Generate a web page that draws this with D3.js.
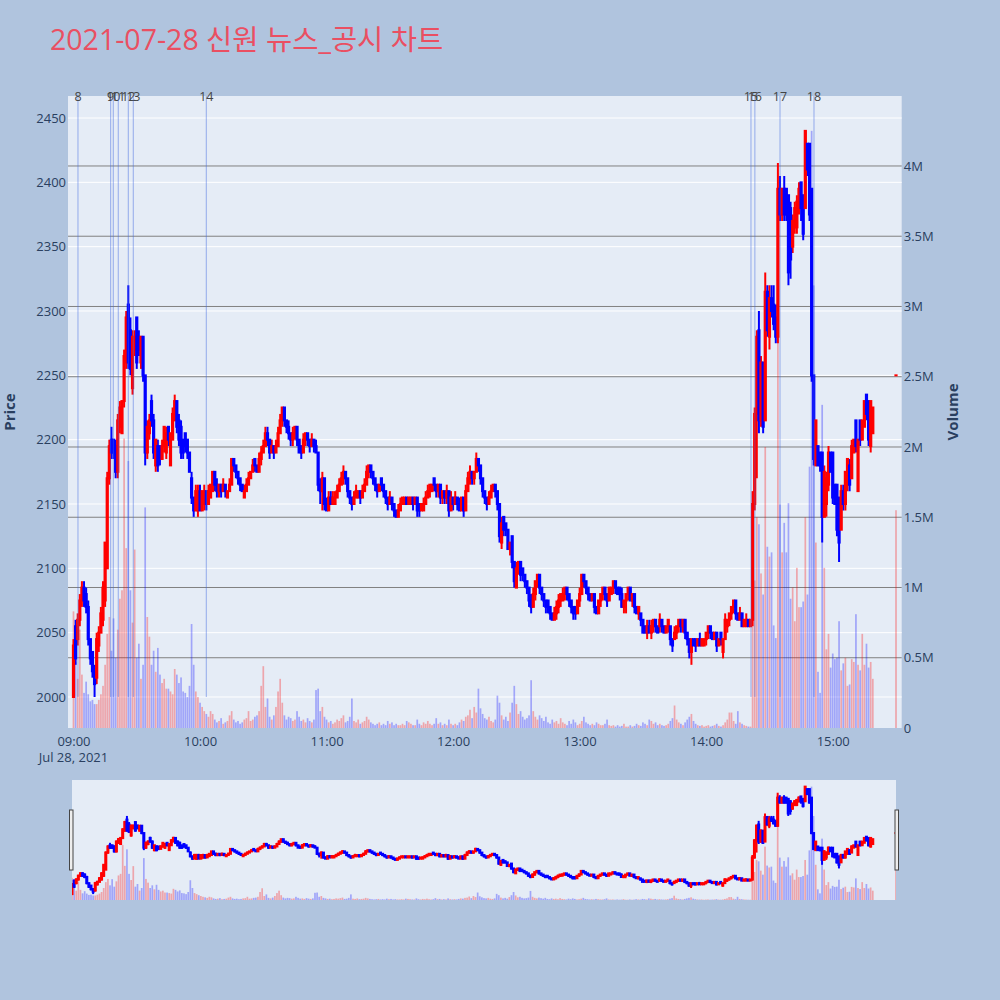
<!DOCTYPE html>
<html><head><meta charset="utf-8">
<script src="https://cdn.jsdelivr.net/npm/d3@7/dist/d3.min.js"></script>
<style>
html,body{margin:0;padding:0;background:#b0c4de;}
svg{display:block;}
text{font-family:"Open Sans","Noto Sans CJK KR",sans-serif;}
</style></head>
<body>
<svg id="chart" width="1000" height="1000"></svg>
<script>
const titleText = "2021-07-28 신원 뉴스_공시 차트";
const sessionOpen = "09:00";
const regularBarCount = 380;          // 1-minute bars 09:00 .. 15:19
const closingAuctionTime = "15:30";   // closing single-price bar

const opens = [
// 09:00-10:06
2000,2055,2045,2060,2075,2085,2080,2070,2045,2035,
2020,2015,2040,2050,2060,2075,2100,2170,2200,2200,
2195,2175,2210,2205,2230,2260,2305,2285,2240,2270,
2295,2280,2260,2280,2250,2190,2205,2230,2215,2180,
2195,2195,2185,2195,2190,2210,2180,2200,2215,2230,
2215,2210,2200,2205,2200,2190,2170,2155,2145,2145,
2160,2145,2150,2160,2150,2155,2160,
// 10:07-12:21
2175,2165,2160,2165,2160,2165,2155,2160,2165,2185,
2180,2175,2170,2165,2155,2160,2165,2170,2175,2185,
2180,2175,2185,2190,2195,2205,2200,2190,2195,2190,
2195,2205,2215,2225,2215,2210,2205,2200,2205,2210,
2200,2195,2190,2200,2205,2200,2195,2200,2195,2190,
2165,2160,2170,2150,2145,2155,2150,2150,2155,2160,
2165,2170,2175,2170,2160,2155,2150,2155,2155,2160,
2155,2160,2165,2175,2180,2175,2170,2165,2160,2170,
2165,2160,2155,2150,2155,2150,2145,2140,2145,2150,
2150,2155,2150,2150,2155,2150,2155,2150,2145,2145,
2150,2155,2160,2160,2170,2165,2160,2165,2155,2160,
2155,2160,2145,2155,2150,2155,2150,2145,2155,2145,
2160,2170,2175,2170,2175,2185,2180,2170,2160,2155,
2150,2155,2160,2165,2160,
// 12:22-14:21
2150,2120,2140,2135,2130,2115,2125,2105,2085,2100,
2105,2100,2095,2090,2085,2075,2070,2080,2090,2095,
2085,2080,2075,2075,2070,2065,2060,2065,2070,2075,
2075,2080,2085,2080,2075,2070,2070,2065,2075,2080,
2095,2090,2085,2080,2075,2080,2070,2065,2075,2080,
2085,2080,2075,2080,2085,2090,2085,2085,2080,2070,
2075,2080,2085,2075,2080,2070,2065,2065,2060,2055,
2050,2055,2050,2055,2060,2055,2055,2060,2055,2050,
2055,2055,2045,2045,2050,2055,2060,2055,2060,2050,
2045,2035,2045,2045,2040,2045,2040,2040,2045,2050,
2055,2050,2045,2050,2040,2050,2035,2045,2055,2060,
2065,2070,2075,2065,2060,2065,2055,2055,2060,2055,
// 14:22-15:19
2060,2150,2220,2285,2215,2260,2215,2315,2280,2310,
2305,2295,2280,2395,2375,2395,2395,2390,2380,2350,
2365,2365,2380,2400,2390,2380,2430,2430,2395,2250,
2180,2195,2190,2190,2140,2150,2165,2190,2190,2165,
2165,2155,2130,2160,2150,2165,2180,2170,2190,2215,
2160,2215,2200,2210,2235,2230,2195,2205,
// 15:30
2250];

const highs = [
2045,2060,2065,2080,2090,2090,2085,2075,2045,2035,
2025,2050,2055,2070,2090,2120,2175,2200,2210,2200,
2200,2220,2230,2230,2270,2300,2320,2295,2285,2285,
2295,2285,2280,2280,2250,2215,2220,2235,2220,2200,
2200,2195,2200,2210,2210,2210,2205,2225,2235,2230,
2220,2215,2200,2205,2200,2190,2175,2155,2165,2165,
2165,2160,2165,2160,2165,2165,2175,
2175,2170,2165,2165,2170,2165,2160,2170,2185,2185,
2180,2175,2170,2165,2165,2170,2175,2175,2185,2185,
2180,2190,2195,2200,2210,2210,2200,2200,2195,2200,
2210,2220,2225,2225,2215,2215,2205,2210,2210,2210,
2200,2195,2205,2205,2205,2200,2205,2200,2200,2190,
2170,2175,2170,2155,2160,2160,2160,2160,2165,2170,
2175,2180,2175,2170,2160,2155,2160,2165,2160,2160,
2165,2170,2180,2180,2180,2175,2170,2165,2165,2170,
2165,2160,2155,2160,2155,2150,2145,2150,2155,2155,
2155,2155,2155,2155,2155,2155,2155,2150,2150,2155,
2160,2165,2165,2165,2170,2165,2165,2165,2160,2160,
2165,2160,2160,2155,2160,2155,2155,2155,2155,2165,
2175,2180,2175,2175,2190,2185,2180,2170,2160,2155,
2160,2165,2165,2165,2160,
2150,2140,2140,2135,2130,2120,2125,2105,2105,2105,
2105,2100,2095,2090,2085,2080,2085,2090,2095,2095,
2085,2080,2075,2075,2070,2065,2070,2075,2080,2080,
2085,2085,2085,2080,2075,2070,2070,2075,2085,2095,
2095,2090,2085,2080,2080,2080,2070,2075,2080,2085,
2085,2080,2085,2085,2090,2090,2085,2085,2085,2075,
2080,2085,2085,2080,2080,2070,2070,2065,2060,2055,
2060,2060,2060,2060,2060,2055,2065,2060,2055,2055,
2060,2055,2045,2055,2055,2060,2060,2060,2060,2050,
2045,2045,2045,2045,2045,2050,2045,2045,2050,2055,
2055,2050,2050,2050,2045,2050,2045,2065,2060,2065,
2070,2075,2075,2065,2070,2065,2060,2065,2060,2060,
2160,2225,2285,2300,2265,2260,2330,2320,2320,2320,
2320,2305,2415,2405,2395,2405,2395,2390,2385,2375,
2385,2390,2400,2400,2390,2440,2430,2430,2395,2250,
2215,2195,2190,2190,2180,2175,2195,2190,2190,2165,
2165,2155,2165,2165,2175,2185,2185,2200,2200,2215,
2200,2215,2215,2230,2235,2230,2230,2225,
2250];

const lows = [
2000,2025,2040,2055,2070,2070,2065,2040,2025,2015,
2000,2010,2035,2050,2055,2070,2100,2165,2185,2185,
2170,2170,2205,2205,2225,2255,2255,2250,2235,2265,
2255,2265,2255,2245,2180,2185,2200,2210,2185,2175,
2175,2180,2185,2190,2185,2195,2180,2200,2215,2205,
2195,2185,2185,2190,2185,2175,2150,2140,2145,2140,
2145,2145,2145,2145,2150,2155,2160,
2160,2155,2155,2155,2160,2155,2155,2160,2165,2175,
2170,2165,2160,2160,2155,2160,2165,2170,2175,2175,
2175,2175,2180,2190,2195,2195,2185,2190,2185,2190,
2195,2205,2210,2210,2205,2200,2195,2195,2200,2195,
2190,2185,2190,2195,2195,2190,2195,2190,2190,2160,
2150,2145,2145,2145,2145,2150,2150,2150,2155,2160,
2165,2165,2165,2155,2150,2145,2150,2155,2155,2150,
2155,2160,2165,2170,2170,2165,2160,2155,2160,2160,
2155,2150,2145,2150,2145,2140,2140,2140,2145,2150,
2150,2150,2150,2150,2145,2150,2140,2140,2145,2145,
2150,2155,2155,2160,2160,2155,2155,2150,2150,2150,
2150,2140,2145,2145,2150,2145,2145,2145,2140,2145,
2160,2165,2165,2165,2175,2175,2165,2155,2150,2145,
2150,2155,2160,2155,2145,
2120,2115,2125,2125,2115,2110,2100,2085,2085,2095,
2090,2090,2085,2080,2070,2065,2070,2075,2085,2080,
2075,2070,2065,2065,2060,2060,2060,2060,2065,2070,
2075,2075,2075,2070,2065,2060,2060,2065,2070,2080,
2085,2080,2075,2075,2075,2065,2065,2065,2070,2075,
2075,2070,2075,2080,2080,2080,2080,2075,2070,2065,
2065,2075,2075,2070,2065,2065,2060,2055,2050,2050,
2045,2050,2045,2050,2050,2050,2050,2050,2050,2050,
2050,2040,2035,2045,2045,2050,2050,2050,2045,2040,
2030,2025,2040,2035,2040,2040,2040,2040,2040,2045,
2045,2045,2045,2035,2040,2040,2030,2045,2050,2055,
2060,2065,2060,2060,2060,2055,2055,2055,2055,2055,
2055,2145,2170,2205,2210,2205,2215,2280,2270,2295,
2285,2275,2275,2370,2370,2370,2370,2320,2325,2345,
2360,2360,2375,2370,2355,2380,2405,2370,2245,2180,
2180,2180,2175,2120,2140,2140,2160,2175,2150,2150,
2125,2105,2130,2145,2145,2160,2160,2170,2190,2190,
2160,2195,2200,2210,2215,2195,2190,2205,
2250];

const closes = [
2040,2030,2060,2075,2085,2075,2070,2045,2030,2020,
2010,2045,2050,2065,2085,2120,2170,2195,2190,2190,
2175,2215,2225,2230,2265,2295,2260,2255,2280,2280,
2260,2270,2280,2250,2190,2210,2215,2215,2190,2200,
2180,2185,2195,2210,2205,2200,2205,2220,2230,2210,
2200,2190,2190,2195,2190,2175,2155,2145,2160,2160,
2145,2160,2160,2150,2160,2165,2175,
2165,2160,2165,2160,2165,2160,2160,2165,2185,2180,
2175,2170,2165,2160,2160,2165,2170,2175,2180,2180,
2175,2185,2190,2195,2205,2200,2190,2195,2190,2195,
2205,2215,2225,2215,2210,2205,2200,2205,2210,2200,
2190,2190,2200,2205,2200,2195,2200,2195,2190,2165,
2160,2170,2150,2145,2155,2150,2155,2155,2160,2165,
2170,2175,2170,2160,2155,2150,2155,2160,2160,2155,
2160,2165,2175,2180,2175,2170,2165,2160,2165,2165,
2160,2155,2150,2155,2150,2145,2140,2145,2150,2155,
2155,2150,2155,2155,2150,2155,2145,2145,2150,2150,
2155,2160,2165,2165,2165,2160,2165,2155,2160,2155,
2160,2145,2155,2150,2155,2150,2145,2155,2145,2160,
2170,2175,2170,2175,2185,2180,2170,2160,2155,2150,
2155,2160,2165,2160,2150,
2125,2135,2130,2130,2115,2120,2105,2090,2100,2105,
2095,2095,2090,2085,2075,2070,2080,2090,2095,2085,
2080,2075,2070,2070,2065,2060,2065,2070,2075,2080,
2080,2085,2080,2075,2070,2065,2065,2075,2080,2095,
2090,2085,2080,2075,2080,2070,2065,2075,2080,2085,
2080,2075,2085,2085,2090,2085,2080,2080,2070,2075,
2080,2085,2075,2080,2070,2065,2070,2060,2050,2050,
2055,2050,2055,2060,2055,2050,2060,2055,2050,2055,
2060,2045,2040,2050,2055,2060,2055,2060,2050,2045,
2035,2045,2040,2040,2045,2040,2045,2045,2050,2055,
2050,2045,2050,2040,2045,2045,2045,2060,2060,2065,
2070,2075,2065,2060,2065,2055,2060,2060,2055,2060,
2150,2220,2280,2215,2260,2210,2315,2285,2310,2300,
2290,2280,2395,2375,2395,2375,2375,2330,2340,2370,
2380,2385,2395,2380,2360,2440,2410,2375,2250,2185,
2215,2180,2180,2140,2175,2170,2190,2175,2155,2150,
2130,2120,2160,2150,2175,2185,2165,2195,2200,2195,
2200,2200,2215,2230,2220,2200,2230,2225,
2250];

// volume in thousands of shares
const volumesK = [
830,470,350,700,380,250,330,240,190,200,
170,170,200,240,300,450,670,790,550,780,
500,700,920,980,2060,1280,1900,980,750,1270,
500,600,350,450,1570,790,650,450,550,400,
570,380,320,350,280,280,260,240,420,380,
320,360,260,250,220,300,740,450,260,220,
180,150,120,100,80,120,100,
60,40,50,70,30,40,50,90,120,60,
40,50,30,40,60,70,120,50,60,80,
90,120,300,440,150,210,80,60,90,150,
260,350,180,90,60,80,70,50,60,120,
80,50,60,40,70,50,40,60,270,280,
120,150,80,60,40,50,30,40,60,50,
70,90,40,50,80,210,50,40,60,30,
40,50,80,60,40,30,20,30,40,20,
30,20,50,30,40,20,30,20,20,30,
20,50,40,30,20,20,60,30,20,40,
30,50,30,20,30,70,30,40,20,30,
20,60,30,20,30,20,40,60,50,80,
90,130,70,150,110,280,140,100,70,60,
80,50,40,60,230,
180,90,60,80,50,110,180,300,170,100,
120,80,60,70,90,340,120,80,60,90,
70,50,80,40,30,60,40,50,30,70,
40,30,20,50,30,60,40,20,30,50,
80,40,30,20,30,20,40,30,20,20,
30,60,20,15,20,10,20,10,15,30,
10,10,20,10,15,30,20,15,40,30,
20,60,50,30,40,20,30,20,15,20,
30,50,70,160,60,40,30,20,40,60,
80,100,50,30,20,15,20,10,15,20,
10,15,20,30,15,10,20,40,60,110,
110,50,30,120,40,30,20,15,10,10,
1600,1050,1500,1450,1100,950,2000,1290,1220,1250,
730,640,3950,1590,1250,1460,1250,1600,920,1000,
760,1140,860,860,900,1500,950,1860,4250,3150,
1320,400,250,2300,1140,560,670,430,530,490,
500,760,410,460,500,300,310,490,470,810,
450,410,670,450,600,430,470,350,
1550];

const newsTimes  = ["09:02:08","09:17:38","09:18:52","09:21:14","09:25:59","09:28:21","10:02:58","14:21:14","14:23:05","14:35:00","14:51:07"];
const newsLabels = ["8","9","10","11","12","13","14","15","16","17","18"];
const priceTicks  = [2000,2050,2100,2150,2200,2250,2300,2350,2400,2450];
const volumeTicks = [0,500000,1000000,1500000,2000000,2500000,3000000,3500000,4000000];
const timeTicks   = ["09:00","10:00","11:00","12:00","13:00","14:00","15:00"];
const dateLabel   = "Jul 28, 2021";

// ---------------------------------------------------------------
const parseT = s => { const p = s.split(":").map(Number); return new Date(2021, 6, 28, p[0], p[1], p[2] || 0); };
const openTime = parseT(sessionOpen);
const times = d3.range(regularBarCount).map(i => d3.timeMinute.offset(openTime, i));
times.push(parseT(closingAuctionTime));
if ([opens, highs, lows, closes, volumesK].some(a => a.length !== times.length)) console.error("length mismatch", opens.length, highs.length, lows.length, closes.length, volumesK.length, times.length);
const bars = times.map((t, i) => ({t, o: opens[i], h: highs[i], l: lows[i], c: closes[i], v: volumesK[i] * 1000}));

const UP = "#ff0000", DOWN = "#0000ff", TXT = "#2a3f5f";
const col = d => d.c >= d.o ? UP : DOWN;

const svg = d3.select("#chart");
svg.append("rect").attr("width", 1000).attr("height", 1000).attr("fill", "#b0c4de");

const P = {l: 68, r: 901.7, t: 96, b: 728};
const x = d3.scaleTime()
  .domain([d3.timeSecond.offset(openTime, -156), d3.timeSecond.offset(openTime, 23562)])
  .range([P.l, P.r]);
const yP = d3.scaleLinear().domain([1975.9, 2467.1]).range([P.b, P.t]);
const yV = d3.scaleLinear().domain([0, 4.498e6]).range([P.b, P.t]);

const defs = svg.append("defs");
defs.append("clipPath").attr("id", "clipMain").append("rect")
  .attr("x", P.l).attr("y", P.t).attr("width", P.r - P.l).attr("height", P.b - P.t);

svg.append("rect").attr("x", P.l).attr("y", P.t).attr("width", P.r - P.l).attr("height", P.b - P.t).attr("fill", "#e5ecf6");

// grids
const grid = svg.append("g");
grid.selectAll(".vg").data(volumeTicks.filter(v => v > 0)).join("line")
  .attr("x1", P.l).attr("x2", P.r).attr("y1", d => yV(d)).attr("y2", d => yV(d))
  .attr("stroke", "#808080").attr("stroke-width", 1);
grid.selectAll(".pg").data(priceTicks).join("line")
  .attr("x1", P.l).attr("x2", P.r).attr("y1", d => yP(d)).attr("y2", d => yP(d))
  .attr("stroke", "#ffffff").attr("stroke-width", 1);

function drawSeries(g, xs, yp, yv, barW, bodyW, wickW) {
  g.append("g").selectAll("rect").data(bars).join("rect")
    .attr("x", d => xs(d.t) - barW / 2).attr("width", barW)
    .attr("y", d => yv(d.v)).attr("height", d => yv(0) - yv(d.v))
    .attr("fill", col).attr("fill-opacity", 0.3);
  const cg = g.append("g");
  cg.selectAll("line").data(bars).join("line")
    .attr("x1", d => xs(d.t)).attr("x2", d => xs(d.t))
    .attr("y1", d => yp(d.h)).attr("y2", d => yp(d.l))
    .attr("stroke", col).attr("stroke-width", wickW);
  cg.selectAll("rect").data(bars).join("rect")
    .attr("x", d => xs(d.t) - bodyW / 2).attr("width", bodyW)
    .attr("y", d => yp(Math.max(d.o, d.c)) - 1)
    .attr("height", d => Math.max(yp(Math.min(d.o, d.c)) - yp(Math.max(d.o, d.c)), 0) + 2)
    .attr("fill", col);
}

const main = svg.append("g").attr("clip-path", "url(#clipMain)");
drawSeries(main, x, yP, yV, 1.7, 3.2, 2);

// news markers
const news = svg.append("g");
newsTimes.forEach((s, i) => {
  const nx = x(parseT(s));
  news.append("line").attr("x1", nx).attr("x2", nx).attr("y1", yP(2000)).attr("y2", P.t)
    .attr("stroke", "royalblue").attr("stroke-opacity", 0.5).attr("stroke-width", 1);
  news.append("text").attr("x", nx).attr("y", P.t + 5).attr("text-anchor", "middle")
    .attr("font-size", 12.5).attr("fill", "#444").text(newsLabels[i]);
});

// axes
const axL = svg.append("g").attr("transform", `translate(${P.l},0)`)
  .call(d3.axisLeft(yP).tickValues(priceTicks).tickFormat(d3.format("d")).tickSize(0).tickPadding(2));
const axR = svg.append("g").attr("transform", `translate(${P.r},0)`)
  .call(d3.axisRight(yV).tickValues(volumeTicks).tickFormat(v => v === 0 ? "0" : (v / 1e6) + "M").tickSize(0).tickPadding(2));
const axB = svg.append("g").attr("transform", `translate(0,${P.b})`)
  .call(d3.axisBottom(x).tickValues(timeTicks.map(parseT)).tickFormat(d3.timeFormat("%H:%M")).tickSize(0).tickPadding(9));
[axL, axR, axB].forEach(a => {
  a.select(".domain").remove();
  a.selectAll("text").attr("fill", TXT).attr("font-size", 13).attr("font-family", "'Open Sans', sans-serif");
});
svg.append("text").attr("x", x(openTime)).attr("y", 762).attr("text-anchor", "middle")
  .attr("fill", TXT).attr("font-size", 13).text(dateLabel);

svg.append("text").attr("transform", `translate(15,${(P.t + P.b) / 2}) rotate(-90)`).attr("text-anchor", "middle")
  .attr("fill", TXT).attr("font-size", 15).attr("font-weight", "bold").text("Price");
svg.append("text").attr("transform", `translate(958,${(P.t + P.b) / 2}) rotate(-90)`).attr("text-anchor", "middle")
  .attr("fill", TXT).attr("font-size", 15).attr("font-weight", "bold").text("Volume");

svg.append("text").attr("x", 50).attr("y", 50).attr("fill", "#ea4f62").attr("font-size", 28.5).text(titleText);

// range slider
const S = {l: 72, r: 896, t: 780, b: 900};
const xs = d3.scaleTime().domain([openTime, parseT(closingAuctionTime)]).range([S.l, S.r]);
const ysP = yP.copy().range([S.b, S.t]);
const ysV = yV.copy().range([S.b, S.t]);
defs.append("clipPath").attr("id", "clipSlider").append("rect")
  .attr("x", S.l).attr("y", S.t).attr("width", S.r - S.l).attr("height", S.b - S.t);
svg.append("rect").attr("x", S.l).attr("y", S.t).attr("width", S.r - S.l).attr("height", S.b - S.t).attr("fill", "#e5ecf6");
const sl = svg.append("g").attr("clip-path", "url(#clipSlider)");
drawSeries(sl, xs, ysP, ysV, 1.7, 3, 2);
[S.l - 2.5, S.r - 1].forEach(hx => {
  svg.append("rect").attr("x", hx).attr("y", S.t + 30).attr("width", 3.5).attr("height", 60)
    .attr("fill", "#eeeeee").attr("stroke", "#444").attr("stroke-width", 1);
});
</script>
</body></html>
